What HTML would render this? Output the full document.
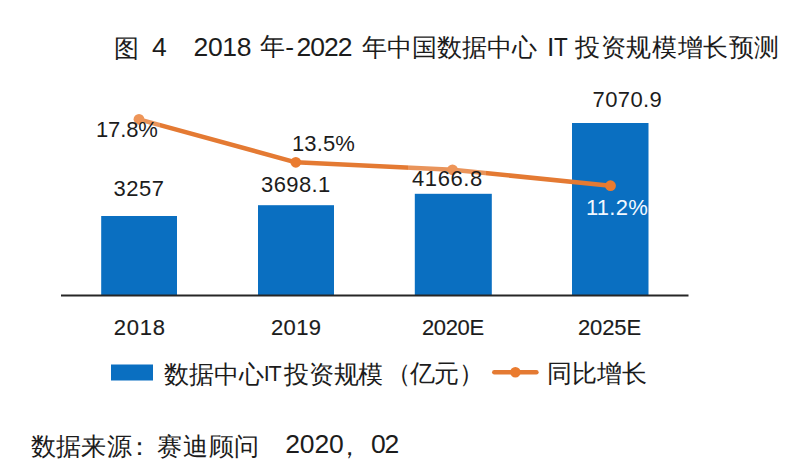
<!DOCTYPE html>
<html><head><meta charset="utf-8">
<style>
html,body{margin:0;padding:0;background:#fff;}
body{width:800px;height:476px;position:relative;overflow:hidden;font-family:"Liberation Sans",sans-serif;color:#1c1c1c;}
.t{position:absolute;white-space:pre;line-height:1;}
</style></head><body>
<svg width="800" height="476" style="position:absolute;left:0;top:0">
  <rect x="101.2" y="216" width="75.8" height="79.5" fill="#0A6FC1"/>
  <rect x="258" y="205.2" width="76" height="90.3" fill="#0A6FC1"/>
  <rect x="414.8" y="193.8" width="77" height="101.7" fill="#0A6FC1"/>
  <rect x="572" y="123" width="76.5" height="172.5" fill="#0A6FC1"/>
  <rect x="61" y="294.5" width="627.5" height="2" fill="#262626"/>
  <polyline points="139,119.3 295.8,162.3 452.5,169.8 610.5,185.7" fill="none" stroke="#E47A33" stroke-width="4.5" stroke-linejoin="round"/>
  <circle cx="139" cy="119.3" r="5.4" fill="#EA7B2F"/>
  <circle cx="295.8" cy="162.3" r="5.4" fill="#EA7B2F"/>
  <circle cx="452.5" cy="169.8" r="5.4" fill="#EA7B2F"/>
  <circle cx="610.5" cy="185.7" r="5.4" fill="#EA7B2F"/>
  <rect x="111" y="364.5" width="42" height="16" fill="#0A6FC1"/>
  <line x1="494.3" y1="372.25" x2="536.4" y2="372.25" stroke="#E47A33" stroke-width="4.5" stroke-linecap="round"/>
  <circle cx="515.4" cy="372.25" r="5.3" fill="#EA7B2F"/>
</svg>

<div style="position:absolute;left:93px;top:112px;width:67px;height:32px;background:rgba(255,255,255,0.2)"></div>
<div style="position:absolute;left:408px;top:163px;width:78px;height:29px;background:rgba(255,255,255,0.2)"></div>
<div class="t" style="left:113.50px;top:36.00px;font-size:25.3px;">图</div>
<div class="t" style="left:152.00px;top:33.50px;font-size:26.5px;">4</div>
<div class="t" style="left:193.50px;top:33.50px;font-size:26.5px;letter-spacing:-0.33px;">2018</div>
<div class="t" style="left:259.70px;top:34.30px;font-size:25.3px;">年</div>
<div class="t" style="left:285.30px;top:33.50px;font-size:26.5px;">-</div>
<div class="t" style="left:296.50px;top:33.50px;font-size:26.5px;letter-spacing:-1.00px;">2022</div>
<div class="t" style="left:361.70px;top:35.30px;font-size:25.3px;letter-spacing:0.12px;">年中国数据中心</div>
<div class="t" style="left:547.00px;top:33.50px;font-size:26.5px;">I</div>
<div class="t" style="left:553.50px;top:33.50px;font-size:26.5px;transform:scaleX(0.85);transform-origin:0 0;">T</div>
<div class="t" style="left:575.25px;top:35.30px;font-size:25.3px;letter-spacing:0.57px;">投资规模增长预测</div>
<div class="t" style="left:96.00px;top:119.00px;font-size:22px;letter-spacing:-0.12px;">17.8%</div>
<div class="t" style="left:113.55px;top:178.40px;font-size:22px;letter-spacing:0.53px;">3257</div>
<div class="t" style="left:292.00px;top:132.50px;font-size:22px;letter-spacing:0.12px;">13.5%</div>
<div class="t" style="left:261.00px;top:173.50px;font-size:22px;letter-spacing:0.40px;">3698.1</div>
<div class="t" style="left:412.00px;top:167.50px;font-size:22px;letter-spacing:0.60px;">4166.8</div>
<div class="t" style="left:592.50px;top:89.10px;font-size:22px;letter-spacing:0.40px;">7070.9</div>
<div class="t" style="left:586.00px;top:197.30px;font-size:22px;color:#F2F8FF;letter-spacing:0.25px;">11.2%</div>
<div class="t" style="left:113.80px;top:316.90px;font-size:22px;letter-spacing:0.77px;-webkit-text-stroke:0.15px #1c1c1c;">2018</div>
<div class="t" style="left:271.00px;top:317.40px;font-size:22px;letter-spacing:0.33px;-webkit-text-stroke:0.15px #1c1c1c;">2019</div>
<div class="t" style="left:422.00px;top:316.50px;font-size:22px;letter-spacing:-0.38px;-webkit-text-stroke:0.15px #1c1c1c;">2020E</div>
<div class="t" style="left:578.00px;top:316.50px;font-size:22px;letter-spacing:-0.12px;-webkit-text-stroke:0.15px #1c1c1c;">2025E</div>
<div class="t" style="left:164.00px;top:361.50px;font-size:25px;">数据中心</div>
<div class="t" style="left:263.70px;top:363.70px;font-size:21.5px;letter-spacing:-1.10px;">IT</div>
<div class="t" style="left:284.00px;top:361.75px;font-size:25px;letter-spacing:-0.17px;">投资规模</div>
<div class="t" style="left:385.70px;top:360.75px;font-size:25px;letter-spacing:-0.60px;">（亿元）</div>
<div class="t" style="left:547.00px;top:360.80px;font-size:25px;">同比增长</div>
<div class="t" style="left:31.30px;top:433.55px;font-size:25.3px;letter-spacing:0.10px;">数据来源</div>
<div class="t" style="left:126.70px;top:433.55px;font-size:25.3px;">：</div>
<div class="t" style="left:157.25px;top:433.50px;font-size:25.0px;letter-spacing:0.67px;">赛迪顾问</div>
<div class="t" style="left:285.20px;top:430.75px;font-size:26.5px;letter-spacing:-0.10px;">2020</div>
<div class="t" style="left:337.00px;top:433.50px;font-size:25.3px;">，</div>
<div class="t" style="left:371.10px;top:430.75px;font-size:26.5px;letter-spacing:-1.40px;">02</div>
</body></html>
